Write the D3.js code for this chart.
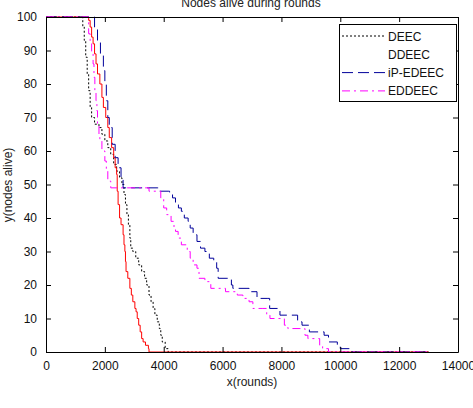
<!DOCTYPE html>
<html><head><meta charset="utf-8">
<script src="https://cdn.jsdelivr.net/npm/d3@7"></script>
<style>body{margin:0;background:#fff;} svg{display:block;font-family:"Liberation Sans",Arial,sans-serif;}</style>
</head><body>
<svg id="c" width="473" height="408"></svg>
<script>
const seriesNames = ["DEEC", "DDEEC", "iP-EDEEC", "EDDEEC"];
const xTicks = [0, 2000, 4000, 6000, 8000, 10000, 12000, 14000];
const yTicks = [0, 10, 20, 30, 40, 50, 60, 70, 80, 90, 100];

const deecRounds = [0,1200,1250,1300,1350,1400,1450,1500,1550,1650,1800,1900,2000,2100,2200,2300,2400,2500,2580,2650,2700,2750,2800,2850,2880,2950,3050,3150,3250,3350,3420,3500,3570,3640,3700,3780,3850,3900,3950,4050,4150,13000];
const deecAlive  = [100,100,97,93,88,83,78,73,70,68,67,65,63,61,59,56,54,52,50,47,44,41,38,34,31,30,28,26,24,22,20,17,15,13,11,9,7,5,3,1,0,0];

const ddeecRounds = [0,1380,1450,1500,1550,1600,1650,1700,1750,1830,1900,1950,2030,2100,2150,2230,2300,2350,2400,2420,2450,2500,2550,2620,2650,2680,2700,2720,2780,2850,2900,2950,3020,3060,3100,3150,3200,3250,3300,3380,3480,3500,13000];
const ddeecAlive  = [100,100,99,97,94,92,89,86,83,80,76,73,70,67,64,61,58,55,53,48,44,40,38,35,32,30,27,24,22,19,17,15,13,12,10,8,6,4,3,2,1,0,0];

const ipRounds = [0,1550,1650,1750,1850,1950,2000,2050,2100,2150,2250,2350,2450,2550,2620,3800,3830,4150,4200,4300,4400,4500,4600,4700,4830,4900,5000,5130,5250,5400,5550,5700,5800,5850,6150,6300,6350,6830,6900,7170,7540,7600,7880,7950,8460,8550,8700,8950,9380,9450,9600,9900,10000,10330,13000];
const ipAlive  = [100,100,97,93,89,84,80,75,70,67,62,58,55,52,49,49,48,48,47,46,44,43,42,40,39,37,35,33,31,30,28,27,25,22,22,20,19,19,18,16,16,13,13,11,11,9,8,6,6,5,3,2,1,0,0];

const edRounds = [0,1350,1450,1500,1550,1600,1630,1660,1700,1730,1750,1800,1830,1900,2000,2050,2100,2200,3450,3500,3870,3900,4000,4100,4250,4350,4400,4490,4600,4800,4900,5000,5130,5200,5400,5600,5980,6100,6500,6690,6900,7030,7370,7500,7610,7950,8100,8220,8630,8800,8900,9140,9300,9400,9600,13000];
const edAlive  = [100,100,95,92,89,86,82,78,75,72,68,65,63,60,57,54,51,49,49,48,48,46,43,41,39,37,36,34,32,30,28,26,25,22,21,19,19,18,17,16,15,13,13,11,10,10,8,7,7,5,4,4,2,1,0,0];

const svg = d3.select("#c");
const L = 46, R = 458, T = 17, B = 352;
const x = d3.scaleLinear().domain([0, 14000]).range([L, R]);
const y = d3.scaleLinear().domain([0, 100]).range([B, T]);

const series = [
  {name: seriesNames[0], r: deecRounds, a: deecAlive, color: "#000000", dash: "2,2", legendLine: true},
  {name: seriesNames[1], r: ddeecRounds, a: ddeecAlive, color: "#ff0000", dash: null, legendLine: false},
  {name: seriesNames[2], r: ipRounds, a: ipAlive, color: "#00009a", dash: "11,5", legendLine: true},
  {name: seriesNames[3], r: edRounds, a: edAlive, color: "#ff00ff", dash: "8,4,2,4", legendLine: true}
];

svg.append("clipPath").attr("id","clip").append("rect")
  .attr("x", L).attr("y", T - 1).attr("width", R - L).attr("height", B - T + 2);

const line = d3.line().x(d => x(d[0])).y(d => y(d[1])).curve(d3.curveStepAfter);
const g = svg.append("g").attr("clip-path","url(#clip)");
series.forEach(s => {
  const pts = s.r.map((v, i) => [v, s.a[i]]);
  g.append("path").attr("d", line(pts)).attr("fill","none")
    .attr("stroke", s.color).attr("stroke-width", 1)
    .attr("stroke-dasharray", s.dash);
});

// axes box with inward ticks
const axCol = "#000";
const axB = svg.append("g").attr("transform", `translate(0,${B})`)
  .call(d3.axisBottom(x).tickValues(xTicks).tickSizeInner(-5).tickSizeOuter(0).tickPadding(9).tickFormat(d3.format("d")));
const axT = svg.append("g").attr("transform", `translate(0,${T})`)
  .call(d3.axisTop(x).tickValues(xTicks).tickSizeInner(-5).tickSizeOuter(0).tickFormat(""));
const axL = svg.append("g").attr("transform", `translate(${L},0)`)
  .call(d3.axisLeft(y).tickValues(yTicks).tickSizeInner(-5).tickSizeOuter(0).tickPadding(9));
const axR = svg.append("g").attr("transform", `translate(${R},0)`)
  .call(d3.axisRight(y).tickValues(yTicks).tickSizeInner(-5).tickSizeOuter(0).tickFormat(""));
[axB, axT, axL, axR].forEach(a => {
  a.select(".domain").attr("stroke", axCol);
  a.selectAll(".tick line").attr("stroke", axCol);
  a.selectAll("text").attr("font-size", 12).attr("fill", "#111")
    .attr("font-family", "'Liberation Sans',Arial,sans-serif");
});

// title & labels
svg.append("text").attr("x", 251).attr("y", 7).attr("text-anchor","middle")
  .attr("font-size", 12).attr("fill","#222").text("Nodes alive during rounds");
svg.append("text").attr("x", 252).attr("y", 386).attr("text-anchor","middle")
  .attr("font-size", 12).attr("fill","#222").text("x(rounds)");
svg.append("text").attr("transform","translate(12,185) rotate(-90)").attr("text-anchor","middle")
  .attr("font-size", 12).attr("fill","#222").text("y(nodes alive)");

// legend
const lg = svg.append("g");
lg.append("rect").attr("x", 339.5).attr("y", 24.5).attr("width", 117).attr("height", 77)
  .attr("fill","#fff").attr("stroke","#000");
series.forEach((s, i) => {
  const yy = 36 + i * 18.3;
  if (s.legendLine) {
    lg.append("line").attr("x1", 342).attr("x2", 385).attr("y1", yy).attr("y2", yy)
      .attr("stroke", s.color).attr("stroke-dasharray", s.dash);
  }
  lg.append("text").attr("x", 388).attr("y", yy + 4.5).attr("font-size", 12).attr("fill","#111").text(s.name);
});
</script>
</body></html>
